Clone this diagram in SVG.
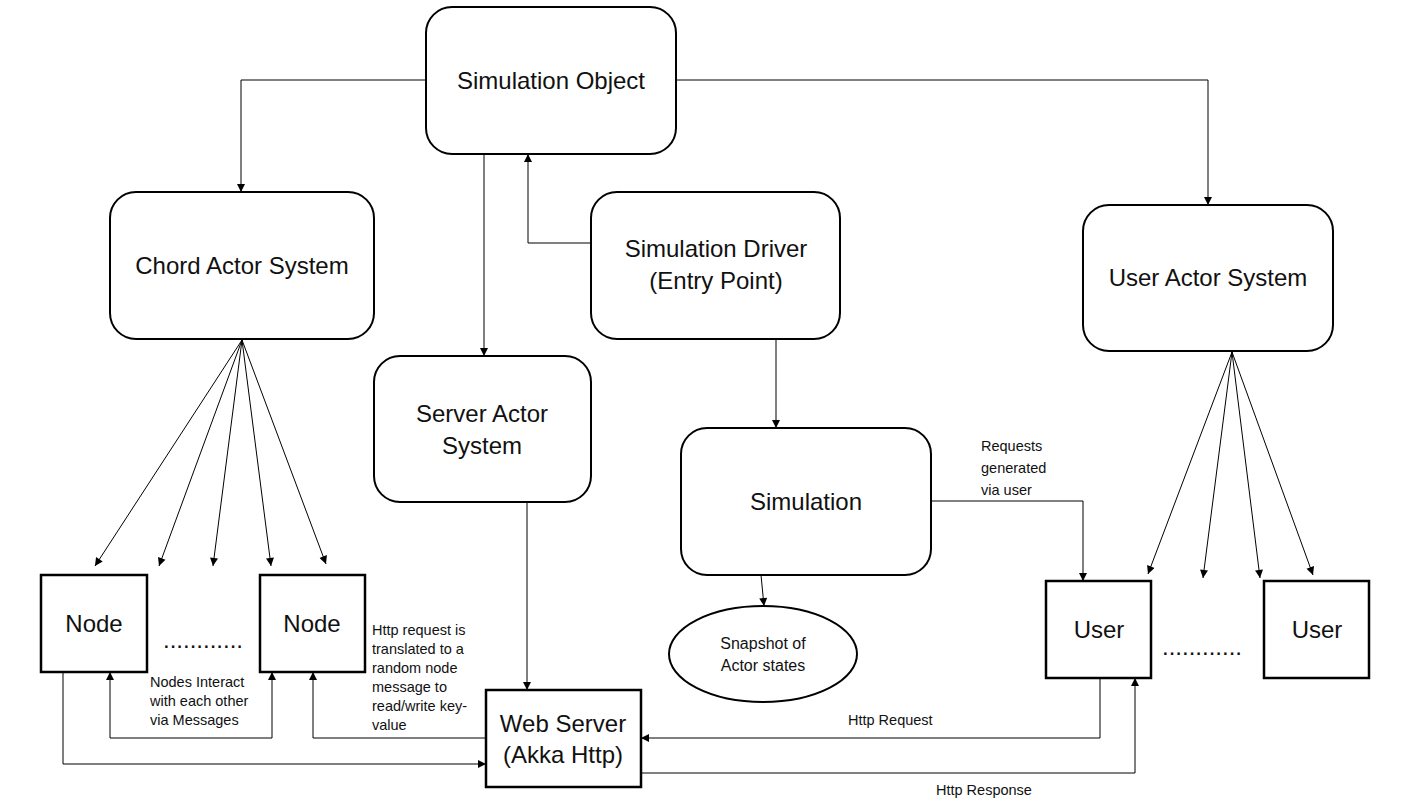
<svg xmlns="http://www.w3.org/2000/svg" width="1417" height="807" viewBox="0 0 1417 807">
<style>
.rbox{fill:#fff;stroke:#000;stroke-width:2}
.sbox{fill:#fff;stroke:#000;stroke-width:2.5}
.lbl{font-family:"Liberation Sans",Arial,sans-serif;font-size:24px;fill:#111;text-anchor:middle}
.sm{font-family:"Liberation Sans",Arial,sans-serif;font-size:14.5px;fill:#111}
.smc{font-family:"Liberation Sans",Arial,sans-serif;font-size:16px;fill:#111;text-anchor:middle}
.dots{font-family:"Liberation Sans",Arial,sans-serif;font-size:24px;fill:#111;text-anchor:middle}
.conn path,.conn line{fill:none;stroke:#000;stroke-width:1}
</style>
<defs>
<marker id="arr" viewBox="0 0 10 10" refX="10" refY="5" markerWidth="9" markerHeight="8" markerUnits="userSpaceOnUse" orient="auto-start-reverse">
<path d="M0,0 L10,5 L0,10 z" fill="#000"/>
</marker>
</defs>
<rect width="1417" height="807" fill="#fff"/>

<g class="conn" id="connectors">
<path d="M426,80 H241 V192" marker-end="url(#arr)"/>
<path d="M676,80 H1208 V205" marker-end="url(#arr)"/>
<path d="M484,154 V356" marker-end="url(#arr)"/>
<path d="M591,243 H528 V154" marker-end="url(#arr)"/>
<path d="M776,339 V428" marker-end="url(#arr)"/>
<path d="M527,502 V690" marker-end="url(#arr)"/>
<path d="M931,501 H1083 V581" marker-end="url(#arr)"/>
<path d="M761,575 L764,606" marker-end="url(#arr)"/>
<path d="M242,340 L95,566" marker-end="url(#arr)"/>
<path d="M242,340 L159,566" marker-end="url(#arr)"/>
<path d="M242,340 L213,566" marker-end="url(#arr)"/>
<path d="M242,340 L271,566" marker-end="url(#arr)"/>
<path d="M242,340 L326,564" marker-end="url(#arr)"/>
<path d="M1232,352 L1148,574" marker-end="url(#arr)"/>
<path d="M1232,352 L1203,578" marker-end="url(#arr)"/>
<path d="M1232,352 L1260,578" marker-end="url(#arr)"/>
<path d="M1232,352 L1313,575" marker-end="url(#arr)"/>
<path d="M63,672 V764 H486" marker-end="url(#arr)"/>
<path d="M110,672 V738 H272 V672" marker-start="url(#arr)" marker-end="url(#arr)"/>
<path d="M486,738 H313 V672" marker-end="url(#arr)"/>
<path d="M1100,678 V738 H641" marker-end="url(#arr)"/>
<path d="M641,773 H1135 V678" marker-end="url(#arr)"/>
</g>

<g id="simulation-object">
<rect class="rbox" x="426" y="7" width="250" height="147" rx="26"/>
<text class="lbl" x="551" y="89">Simulation Object</text>
</g>
<g id="chord-actor-system">
<rect class="rbox" x="110" y="192" width="264" height="147" rx="26"/>
<text class="lbl" x="242" y="274">Chord Actor System</text>
</g>
<g id="simulation-driver">
<rect class="rbox" x="591" y="192" width="249" height="147" rx="26"/>
<text class="lbl" x="716" y="257">Simulation Driver</text>
<text class="lbl" x="716" y="289">(Entry Point)</text>
</g>
<g id="user-actor-system">
<rect class="rbox" x="1083" y="205" width="250" height="146" rx="26"/>
<text class="lbl" x="1208" y="286">User Actor System</text>
</g>
<g id="server-actor-system">
<rect class="rbox" x="374" y="356" width="217" height="146" rx="26"/>
<text class="lbl" x="482" y="422">Server Actor</text>
<text class="lbl" x="482" y="454">System</text>
</g>
<g id="simulation">
<rect class="rbox" x="681" y="428" width="250" height="147" rx="26"/>
<text class="lbl" x="806" y="510">Simulation</text>
</g>
<g id="snapshot">
<ellipse class="rbox" cx="763" cy="654" rx="94" ry="48"/>
<text class="smc" x="763" y="649">Snapshot of</text>
<text class="smc" x="763" y="671">Actor states</text>
</g>
<g id="node-1">
<rect class="sbox" x="41" y="575" width="106" height="97"/>
<text class="lbl" x="94" y="632">Node</text>
</g>
<g id="node-2">
<rect class="sbox" x="260" y="575" width="105" height="97"/>
<text class="lbl" x="312" y="632">Node</text>
</g>
<g id="node-dots">
<text class="dots" x="203" y="648">............</text>
</g>
<g id="user-1">
<rect class="sbox" x="1046" y="581" width="105" height="97"/>
<text class="lbl" x="1099" y="638">User</text>
</g>
<g id="user-2">
<rect class="sbox" x="1264" y="581" width="105" height="97"/>
<text class="lbl" x="1317" y="638">User</text>
</g>
<g id="user-dots">
<text class="dots" x="1202" y="655">............</text>
</g>
<g id="web-server">
<rect class="sbox" x="486" y="690" width="155" height="97"/>
<text class="lbl" x="563" y="732">Web Server</text>
<text class="lbl" x="563" y="763">(Akka Http)</text>
</g>

<g id="labels">
<text class="sm" x="150" y="687">Nodes Interact</text>
<text class="sm" x="150" y="706">with each other</text>
<text class="sm" x="150" y="725">via Messages</text>
<text class="sm" x="372" y="635">Http request is</text>
<text class="sm" x="372" y="654">translated to a</text>
<text class="sm" x="372" y="673">random node</text>
<text class="sm" x="372" y="692">message to</text>
<text class="sm" x="372" y="711">read/write key-</text>
<text class="sm" x="372" y="730">value</text>
<text class="sm" x="981" y="451">Requests</text>
<text class="sm" x="981" y="473">generated</text>
<text class="sm" x="981" y="495">via user</text>
<text class="sm" x="848" y="725">Http Request</text>
<text class="sm" x="936" y="795">Http Response</text>
</g>
</svg>
